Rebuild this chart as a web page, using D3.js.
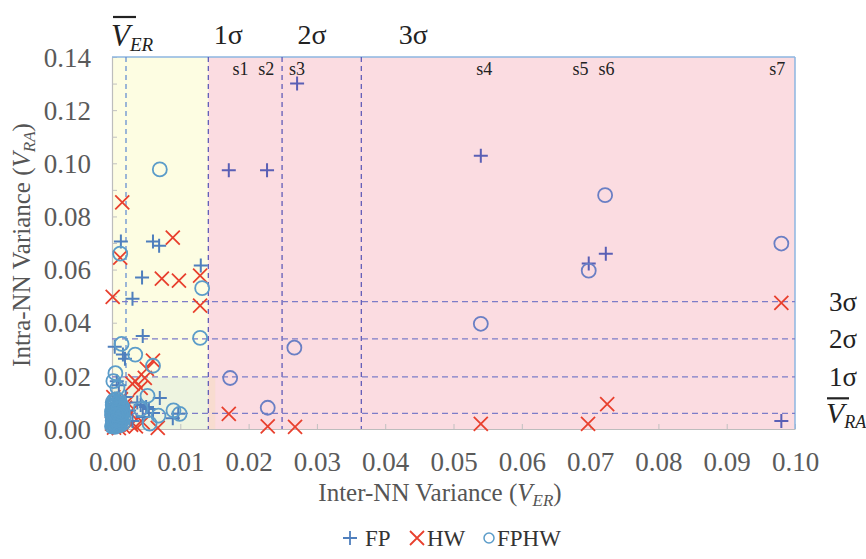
<!DOCTYPE html>
<html>
<head>
<meta charset="utf-8">
<script src="https://cdn.jsdelivr.net/npm/d3@7"></script>
<style>
  body { margin: 0; background: #fff; }
  svg text { font-family: "Liberation Serif", "DejaVu Serif", serif; }
</style>
</head>
<body>
<div id="chart"></div>
<script>
// data
var xTicks = [0, 0.01, 0.02, 0.03, 0.04, 0.05, 0.06, 0.07, 0.08, 0.09, 0.10];
var yTicks = [0, 0.02, 0.04, 0.06, 0.08, 0.10, 0.12, 0.14];

// thresholds: mean, 1σ, 2σ, 3σ
var erLines = [0.00205, 0.0141, 0.0249, 0.0365];
var raLines = [0.0059, 0.0196, 0.0339, 0.0479];
var erLabels = ["1σ", "2σ", "3σ"];
var raLabels = ["1σ", "2σ", "3σ"];

var sampleNames = ["s1", "s2", "s3", "s4", "s5", "s6", "s7"];
var sampleX = [0.0188, 0.0226, 0.0271, 0.0545, 0.0686, 0.0724, 0.0974];

var fpPoints = [
  [0.0271, 0.130], [0.0171, 0.0974], [0.0227, 0.0974], [0.0540, 0.1028],
  [0.0698, 0.0623], [0.0723, 0.0660], [0.0980, 0.0030],
  [0.0013, 0.0706], [0.0060, 0.0706], [0.0069, 0.0690], [0.0044, 0.0570],
  [0.0130, 0.0615], [0.0030, 0.0490], [0.0045, 0.0350], [0.0019, 0.0264],
  [0.0016, 0.0280], [0.0004, 0.0310], [0.0007, 0.0180], [0.0010, 0.0165],
  [0.0070, 0.0117], [0.0050, 0.0083], [0.0097, 0.0057], [0.0089, 0.0040],
  [0.0037, 0.0100], [0.0054, 0.0075], [0.0042, 0.0090], [0.0025, 0.0070],
  [0.0060, 0.0060], [0.0045, 0.0045], [0.0030, 0.0030], [0.0020, 0.0120],
  [0.0005, 0.0090], [0.0010, 0.0050], [0.0003, 0.0030], [0.0015, 0.0020]
];

var hwPoints = [
  [0.0015, 0.0853], [0.0089, 0.0720], [0.0073, 0.0566], [0.0098, 0.0558],
  [0.0012, 0.0645], [0.0129, 0.0577], [0.0001, 0.0497], [0.0129, 0.0464],
  [0.0060, 0.0257], [0.0051, 0.0226], [0.0048, 0.0192], [0.0034, 0.0180],
  [0.0042, 0.0155], [0.0030, 0.0170], [0.0067, 0.0004], [0.0045, 0.0025],
  [0.0035, 0.0010], [0.0171, 0.0057], [0.0228, 0.0010], [0.0268, 0.0008],
  [0.0540, 0.0019], [0.0697, 0.0019], [0.0725, 0.0094], [0.0980, 0.0475],
  [0.0000, 0.0020], [0.0003, 0.0005], [0.0010, 0.0003], [0.0016, 0.0010],
  [0.0021, 0.0042], [0.0019, 0.0080], [0.0013, 0.0112], [0.0002, 0.0120],
  [0.0026, 0.0062], [0.0028, 0.0016], [0.0001, 0.0080], [0.0022, 0.0100]
];

var fphwPoints = [
  [0.0070, 0.0977], [0.0722, 0.0880], [0.0980, 0.0698], [0.0698, 0.0596],
  [0.0540, 0.0396], [0.0267, 0.0306], [0.0173, 0.0192], [0.0228, 0.0080],
  [0.0132, 0.0530], [0.0129, 0.0343], [0.0012, 0.0660], [0.0034, 0.0280],
  [0.0014, 0.0320], [0.0060, 0.0238], [0.0005, 0.0210], [0.0052, 0.0125],
  [0.0068, 0.0050], [0.0090, 0.0070], [0.0099, 0.0057], [0.0055, 0.0020],
  [0.0042, 0.0075], [0.0002, 0.0180], [0.0008, 0.0155],
  [0.0000, 0.0010], [0.0004, 0.0008], [0.0008, 0.0012], [0.0012, 0.0014],
  [0.0001, 0.0031], [0.0005, 0.0028], [0.0009, 0.0033], [0.0013, 0.0030],
  [0.0000, 0.0052], [0.0004, 0.0049], [0.0008, 0.0053], [0.0012, 0.0050],
  [0.0002, 0.0071], [0.0006, 0.0068], [0.0010, 0.0072], [0.0013, 0.0067],
  [0.0001, 0.0090], [0.0005, 0.0093], [0.0009, 0.0088], [0.0012, 0.0094],
  [0.0003, 0.0108], [0.0007, 0.0112], [0.0011, 0.0105],
  [0.0016, 0.0022], [0.0017, 0.0041], [0.0016, 0.0061], [0.0015, 0.0083],
  [0.0002, 0.0020], [0.0006, 0.0040], [0.0010, 0.0060], [0.0003, 0.0062],
  [0.0007, 0.0082], [0.0011, 0.0023], [0.0004, 0.0100], [0.0009, 0.0043],
  [0.0001, 0.0015], [0.0003, 0.0025], [0.0005, 0.0036], [0.0007, 0.0046],
  [0.0009, 0.0057], [0.0011, 0.0064], [0.0013, 0.0078], [0.0002, 0.0084],
  [0.0004, 0.0058], [0.0006, 0.0017], [0.0008, 0.0026], [0.0010, 0.0038],
  [0.0012, 0.0086], [0.0014, 0.0048], [0.0002, 0.0044], [0.0006, 0.0077],
  [0.0008, 0.0098], [0.0010, 0.0016], [0.0000, 0.0066], [0.0014, 0.0035],
  [0.0005, 0.0064], [0.0009, 0.0075], [0.0003, 0.0037], [0.0011, 0.0051],
  [0.0007, 0.0033], [0.0001, 0.0100], [0.0006, 0.0054], [0.0013, 0.0058]
];

var width = 866, height = 559;
var svg = d3.select("#chart").append("svg")
  .attr("width", width).attr("height", height);

var x = d3.scaleLinear().domain([0, 0.1]).range([112, 795]);
var y = d3.scaleLinear().domain([0, 0.14]).range([429, 57]);

// background regions
svg.append("rect")
  .attr("x", x(0)).attr("y", y(0.14))
  .attr("width", x(erLines[1]) - x(0)).attr("height", y(0) - y(0.14))
  .attr("fill", "#fdfde2");
svg.append("rect")
  .attr("x", x(erLines[1])).attr("y", y(0.14))
  .attr("width", x(0.1) - x(erLines[1])).attr("height", y(0) - y(0.14))
  .attr("fill", "#fbdce1");
svg.append("rect")
  .attr("x", x(0)).attr("y", y(raLines[1]))
  .attr("width", x(erLines[1]) - x(0)).attr("height", y(0) - y(raLines[1]))
  .attr("fill", "#eef4e0");
svg.append("rect")
  .attr("x", x(erLines[1])).attr("y", y(raLines[1]))
  .attr("width", 7).attr("height", y(0) - y(raLines[1]))
  .attr("fill", "#f8dcd0");

// axes
var xAxis = d3.axisBottom(x).tickValues(xTicks)
  .tickFormat(d3.format(".2f")).tickSizeInner(-5).tickSizeOuter(0).tickPadding(27);
var yAxis = d3.axisLeft(y).tickValues(d3.range(0, 0.1401, 0.01))
  .tickFormat(function(d) {
    return yTicks.some(function(t) { return Math.abs(t - d) < 1e-6; }) ? d3.format(".2f")(d) : "";
  })
  .tickSizeInner(-5).tickSizeOuter(0).tickPadding(21);

var gx = svg.append("g").attr("transform", "translate(0," + y(0) + ")").call(xAxis);
var gy = svg.append("g").attr("transform", "translate(" + x(0) + ",0)").call(yAxis);
[gx, gy].forEach(function(g) {
  g.attr("font-size", null).attr("font-family", null);
  g.select(".domain").attr("stroke", "#bdbdbd").attr("stroke-width", 1.2);
  g.selectAll(".tick line").attr("stroke", "#c0c0c0");
  g.selectAll(".tick text").style("font-size", "27px").attr("fill", "#5a5a5a")
    .style("font-family", "'Liberation Serif', serif");
});
gx.selectAll(".tick text").attr("dy", "0.55em");
gy.selectAll(".tick text").attr("dy", "0.34em");

// top and right borders
svg.append("line").attr("x1", x(0)).attr("x2", x(0.1)).attr("y1", y(0.14)).attr("y2", y(0.14))
  .attr("stroke", "#8db6e0").attr("stroke-width", 1.5);
svg.append("line").attr("x1", x(0.1)).attr("x2", x(0.1)).attr("y1", y(0.14)).attr("y2", y(0))
  .attr("stroke", "#8db6e0").attr("stroke-width", 1.5);

// threshold lines
svg.selectAll(".vline").data(erLines).enter().append("line")
  .attr("x1", function(d) { return x(d); }).attr("x2", function(d) { return x(d); })
  .attr("y1", y(0.14)).attr("y2", y(0))
  .attr("stroke", function(d, i) { return i === 0 ? "#5b87cf" : "#5552b5"; })
  .attr("stroke-width", 1.2).attr("stroke-dasharray", "5,4");
svg.selectAll(".hline").data(raLines).enter().append("line")
  .attr("x1", x(0)).attr("x2", x(0.1))
  .attr("y1", function(d) { return y(d); }).attr("y2", function(d) { return y(d); })
  .attr("stroke", "#7d7cc8").attr("stroke-width", 1.3).attr("stroke-dasharray", "6,4");

// markers
var s = 7;
svg.append("g").selectAll("path").data(hwPoints).enter().append("path")
  .attr("transform", function(d) { return "translate(" + x(d[0]) + "," + y(d[1]) + ")"; })
  .attr("d", "M" + -s + "," + -s + "L" + s + "," + s + "M" + -s + "," + s + "L" + s + "," + -s)
  .attr("stroke", "#e8402e").attr("stroke-width", 1.8).attr("fill", "none");
svg.append("g").selectAll("path").data(fpPoints).enter().append("path")
  .attr("transform", function(d) { return "translate(" + x(d[0]) + "," + y(d[1]) + ")"; })
  .attr("d", "M" + -s + ",0H" + s + "M0," + -s + "V" + s)
  .attr("stroke", function(d) { return d[0] > 0.015 ? "#5a5fb5" : "#4f7fbd"; })
  .attr("stroke-width", 2).attr("fill", "none");
svg.append("g").selectAll("circle").data(fphwPoints).enter().append("circle")
  .attr("cx", function(d) { return x(d[0]); }).attr("cy", function(d) { return y(d[1]); })
  .attr("r", 7)
  .attr("stroke", function(d) { return d[0] > 0.015 ? "#6a7fc4" : "#5b9cc9"; })
  .attr("stroke-width", 1.8).attr("fill", "none");

// sample labels
svg.selectAll(".slabel").data(sampleNames).enter().append("text")
  .attr("x", function(d, i) { return x(sampleX[i]); }).attr("y", 75)
  .attr("text-anchor", "middle").attr("font-size", 18).attr("fill", "#222")
  .text(function(d) { return d; });

// sigma labels on top
svg.selectAll(".erl").data(erLabels).enter().append("text")
  .attr("x", function(d, i) { return x(erLines[i + 1]) + [20, 30, 52][i]; }).attr("y", 44)
  .attr("text-anchor", "middle").attr("font-size", 28).attr("fill", "#222")
  .text(function(d) { return d; });
var ver = svg.append("text").attr("x", x(erLines[0]) - 15).attr("y", 46)
  .attr("font-size", 31).attr("fill", "#222");
ver.append("tspan").attr("font-style", "italic").text("V");
ver.append("tspan").attr("font-style", "italic").attr("font-size", 19).attr("dy", 5).text("ER");
svg.append("line").attr("x1", x(erLines[0]) - 13).attr("x2", x(erLines[0]) + 10)
  .attr("y1", 17).attr("y2", 17).attr("stroke", "#222").attr("stroke-width", 2.2);

// sigma labels on the right
svg.selectAll(".ral").data(raLabels).enter().append("text")
  .attr("x", 843).attr("y", function(d, i) { return y(raLines[i + 1]) + 9; })
  .attr("text-anchor", "middle").attr("font-size", 27).attr("fill", "#222")
  .text(function(d) { return d; });
var vra = svg.append("text").attr("x", 826).attr("y", y(raLines[0]) + 10)
  .attr("font-size", 30).attr("fill", "#222");
vra.append("tspan").attr("font-style", "italic").text("V");
vra.append("tspan").attr("font-style", "italic").attr("font-size", 18).attr("dy", 5).text("RA");
svg.append("line").attr("x1", 827).attr("x2", 849)
  .attr("y1", y(raLines[0]) - 15).attr("y2", y(raLines[0]) - 15)
  .attr("stroke", "#222").attr("stroke-width", 2.2);

// axis titles
var xt = svg.append("text").attr("x", 440).attr("y", 501).attr("text-anchor", "middle")
  .attr("font-size", 25).attr("fill", "#555");
xt.append("tspan").text("Inter-NN Variance (");
xt.append("tspan").attr("font-style", "italic").text("V");
xt.append("tspan").attr("font-style", "italic").attr("font-size", 17).attr("dy", 5).text("ER");
xt.append("tspan").attr("dy", -5).text(")");

var yt = svg.append("text").attr("transform", "translate(30,245) rotate(-90)")
  .attr("text-anchor", "middle").attr("font-size", 25).attr("fill", "#555");
yt.append("tspan").text("Intra-NN Variance (");
yt.append("tspan").attr("font-style", "italic").text("V");
yt.append("tspan").attr("font-style", "italic").attr("font-size", 17).attr("dy", 5).text("RA");
yt.append("tspan").attr("dy", -5).text(")");

// legend
var lg = svg.append("g").attr("transform", "translate(0,538)");
lg.append("path").attr("d", "M343,0H357M350,-7V7").attr("stroke", "#4f7fbd").attr("stroke-width", 1.8);
lg.append("text").attr("x", 365).attr("y", 8).attr("font-size", 23).attr("fill", "#333").text("FP");
lg.append("path").attr("d", "M410,-7L424,7M410,7L424,-7").attr("stroke", "#e8402e").attr("stroke-width", 1.8);
lg.append("text").attr("x", 427).attr("y", 8).attr("font-size", 23).attr("fill", "#333").text("HW");
lg.append("circle").attr("cx", 489).attr("cy", 0).attr("r", 5).attr("fill", "none")
  .attr("stroke", "#5b9cc9").attr("stroke-width", 1.5);
lg.append("text").attr("x", 497).attr("y", 8).attr("font-size", 23).attr("fill", "#333").text("FPHW");
</script>
</body>
</html>
